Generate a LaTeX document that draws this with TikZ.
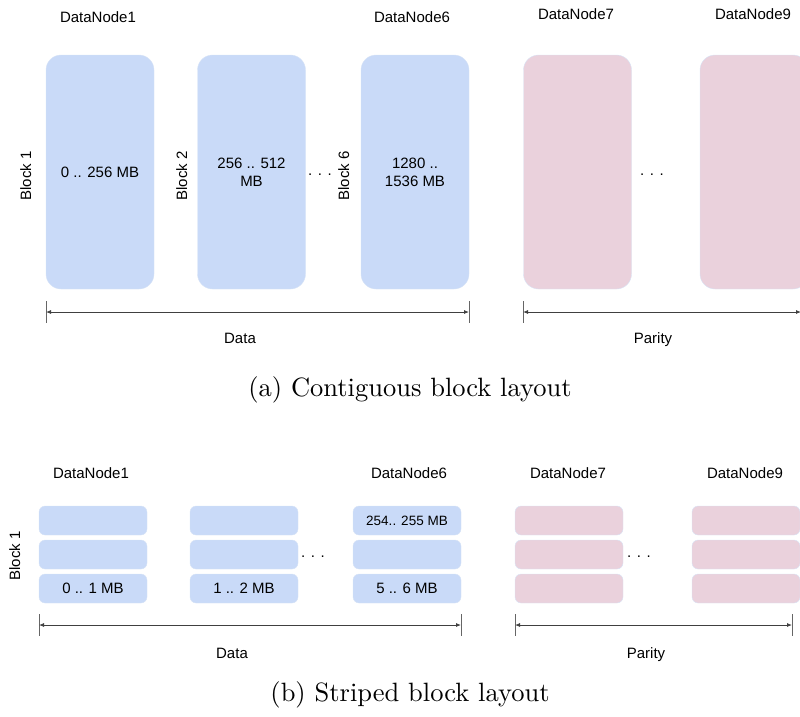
\documentclass[tikz,border=0pt]{standalone}
\usepackage{fontspec}
\newfontfamily\arial{Liberation Sans}
\newfontfamily\capfont{lmroman10-regular.otf}
\usetikzlibrary{arrows.meta}

\definecolor{datablue}{HTML}{C9DAF8}
\definecolor{paritypink}{HTML}{EAD1DC}
\definecolor{boxedge}{HTML}{D8E4F6}

\begin{document}
\begin{tikzpicture}[x=1pt,y=-1pt,
  lbl/.style={font=\arial\fontsize{15}{18}\selectfont, inner sep=0pt, text height=11pt, text depth=3pt},
  tall/.style={draw=boxedge, rounded corners=15pt, minimum width=108pt, minimum height=234pt, inner sep=0pt, align=center, font=\arial\fontsize{15}{18}\selectfont},
  strip/.style={draw=boxedge, rounded corners=6pt, minimum width=108pt, minimum height=29pt, inner sep=0pt, font=\arial\fontsize{15}{18}\selectfont},
  dimline/.style={{Latex[length=5pt,width=4pt]}-{Latex[length=5pt,width=4pt]}, draw=black!75, line width=0.8pt},
  endbar/.style={draw=black!60, line width=1pt},
  capt/.style={font=\capfont\fontsize{26.5}{30}\selectfont, inner sep=0pt}]
% page
\clip (0,0) rectangle (800,716);

% (a) contiguous layout
% datanode names
\node[lbl] (atop1) at (98,18) {DataNode1};
\node[lbl] (atop6) at (412,18) {DataNode6};
\node[lbl] (atop7) at (576,15) {DataNode7};
\node[lbl] (atop9) at (753,15) {DataNode9};

% blocks
\node[tall, fill=datablue] (ab1) at (100,172) {0 .. 256 MB};
\node[tall, fill=datablue] (ab2) at (251.5,172) {256 .. 512\\MB};
\node[tall, fill=datablue] (ab6) at (415,172) {1280 ..\\1536 MB};
\foreach \x/\n in {577.5/7,754/9} {
	\node[tall, fill=paritypink] (ab\n) at (\x,172) {};
}
\foreach \x/\n in {27/1,183/2,345/6} {
	\node[lbl, rotate=90] (ablk\n) at (\x,176) {Block \n};
}
\node[lbl] (adots1) at (320,171) {. . .};
\node[lbl] (adots2) at (652,171) {. . .};

% extents
\coordinate (adl) at (46,312);
\coordinate (adr) at (469,312);
\coordinate (apl) at (523,312);
\coordinate (apr) at (801,312);
\foreach \c in {adl,adr,apl,apr} {
	\draw[endbar] (\c) ++(0,-11) -- ++(0,22);
}
\draw[dimline] (adl) -- (adr);
\draw[dimline] (apl) -- (apr);
\node[lbl] (adata) at (240,339) {Data};
\node[lbl] (apar) at (653,339) {Parity};

\node[capt] (capa) at (410,390) {(a) Contiguous block layout};

% (b) striped layout
% datanode names
\node[lbl] (btop1) at (91,474) {DataNode1};
\node[lbl] (btop6) at (409,474) {DataNode6};
\node[lbl] (btop7) at (568,474) {DataNode7};
\node[lbl] (btop9) at (745,474) {DataNode9};

% cells
\node[strip, fill=datablue] (bs1a) at (93,520.5) {};
\node[strip, fill=datablue] (bs2a) at (244,520.5) {};
\node[strip, fill=datablue, font=\arial\fontsize{13.5}{16}\selectfont] (bs6a) at (407,520.5) {254.. 255 MB};
\foreach \x/\n/\lo in {93/1/0,244/2/1,407/6/5} {
	\pgfmathtruncatemacro\hi{\lo+1}
	\node[strip, fill=datablue] (bs\n b) at (\x,554.5) {};
	\node[strip, fill=datablue] (bs\n c) at (\x,588.5) {\lo\ .. \hi\ MB};
}
\foreach \x/\n in {569/7,746/9} {
	\foreach \y/\r in {520.5/a,554.5/b,588.5/c} {
		\node[strip, fill=paritypink] (bs\n\r) at (\x,\y) {};
	}
}
\node[lbl, rotate=90] (bblk1) at (16,556) {Block 1};
\node[lbl] (bdots1) at (313,553) {. . .};
\node[lbl] (bdots2) at (639,553) {. . .};

% extents
\coordinate (bdl) at (39,625);
\coordinate (bdr) at (461,625);
\coordinate (bpl) at (515,625);
\coordinate (bpr) at (792,625);
\foreach \c in {bdl,bdr,bpl,bpr} {
	\draw[endbar] (\c) ++(0,-11) -- ++(0,22);
}
\draw[dimline] (bdl) -- (bdr);
\draw[dimline] (bpl) -- (bpr);
\node[lbl] (bdata) at (232,654) {Data};
\node[lbl] (bpar) at (646,654) {Parity};

\node[capt] (capb) at (410,695) {(b) Striped block layout};

\end{tikzpicture}
\end{document}
